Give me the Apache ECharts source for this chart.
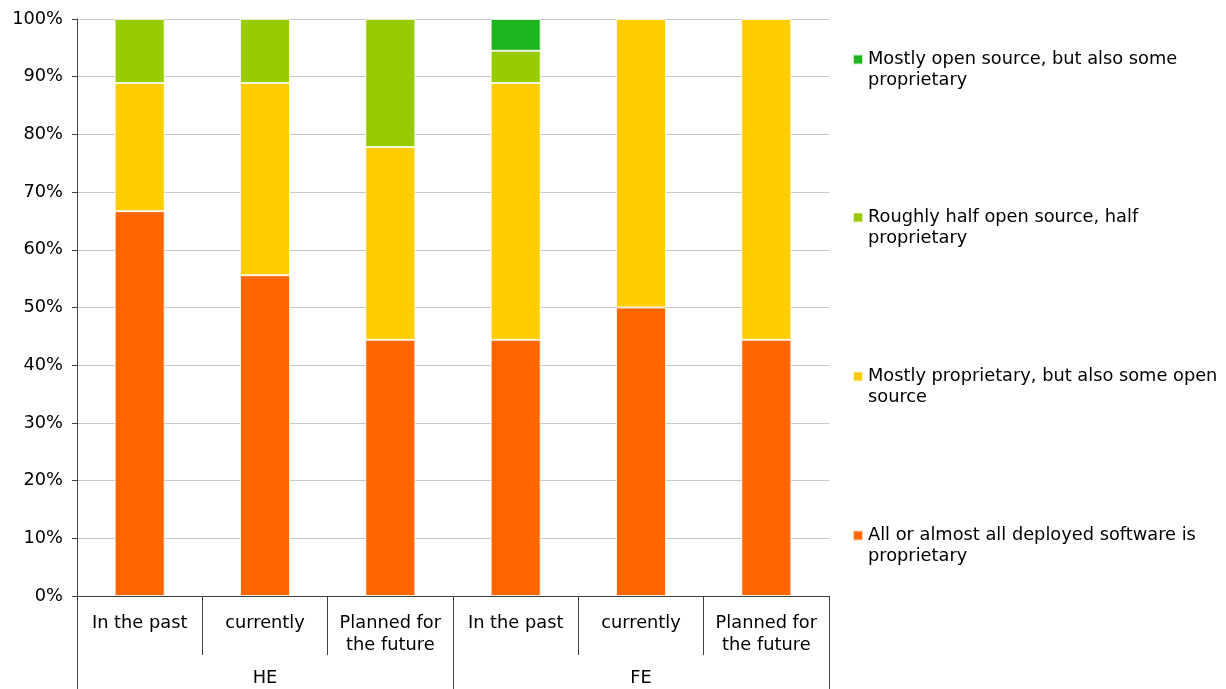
<!DOCTYPE html>
<html>
<head>
<meta charset="utf-8">
<script src="https://cdn.jsdelivr.net/npm/echarts@6/dist/echarts.min.js"></script>
<style>html,body{margin:0;padding:0;background:#fff}#c{width:1226px;height:689px}</style>
</head>
<body>
<div id="c"></div>
<script>
var categories = ['In the past', 'currently', 'Planned for\nthe future', 'In the past', 'currently', 'Planned for\nthe future'];
var groups = ['HE', 'FE'];
var yTicks = [0, 10, 20, 30, 40, 50, 60, 70, 80, 90, 100];
var seriesNames = [
  'All or almost all deployed software is\nproprietary',
  'Mostly proprietary, but also some open\nsource',
  'Roughly half open source, half\nproprietary',
  'Mostly open source, but also some\nproprietary'
];
var allProprietary = [66.7, 55.6, 44.4, 44.4, 50.0, 44.4];
var mostlyProprietary = [22.2, 33.3, 33.4, 44.5, 50.0, 55.6];
var roughlyHalf = [11.1, 11.1, 22.2, 5.6, null, null];
var mostlyOpen = [null, null, null, 5.5, null, null];
var colors = ['#FF6600', '#FFCC00', '#99CC00', '#1FB51F'];

var FONT = 'DejaVu Sans';
var values = [allProprietary, mostlyProprietary, roughlyHalf, mostlyOpen];
var series = values.map(function (v, i) {
  return {
    name: seriesNames[i], type: 'bar', stack: 'all', data: v, barWidth: 50,
    xAxisIndex: 0,
    itemStyle: { color: colors[i], borderColor: 'rgba(255,255,255,0.75)', borderWidth: 1 }
  };
});
var legendTops = [60, 218, 377, 536];
var legends = [3, 2, 1, 0].map(function (si, k) {
  return {
    data: [seriesNames[si]], left: 847, top: legendTops[k] - 37, orient: 'vertical',
    icon: 'rect', itemWidth: 10, itemHeight: 10, itemGap: 0, selectedMode: false,
    formatter: function (n) { return '\n' + n; },
    textStyle: { fontFamily: FONT, fontSize: 17.8, color: '#000', lineHeight: 21 }
  };
});
var chart = echarts.init(document.getElementById('c'), null, { renderer: 'canvas' });
chart.setOption({
  animation: false,
  backgroundColor: '#fff',
  color: colors,
  grid: { left: 77, right: 397, top: 19, bottom: 93, containLabel: false },
  legend: legends,
  xAxis: [{
    type: 'category', data: categories, position: 'bottom',
    axisLine: { lineStyle: { color: '#404040', width: 1 } },
    axisTick: { show: true, interval: 0, length: 59, lineStyle: { color: '#404040' } },
    axisLabel: { interval: 0, fontFamily: FONT, fontSize: 17.8, color: '#000', lineHeight: 22, margin: 16 }
  }, {
    type: 'category', data: groups, position: 'bottom',
    axisLine: { lineStyle: { color: '#404040', width: 1 } },
    axisTick: { show: true, interval: 0, length: 93, lineStyle: { color: '#404040' } },
    axisLabel: { interval: 0, fontFamily: FONT, fontSize: 17.8, color: '#000', margin: 73 }
  }],
  yAxis: {
    type: 'value', min: yTicks[0], max: yTicks[yTicks.length - 1], interval: 10,
    axisLine: { show: true, lineStyle: { color: '#404040' } },
    axisTick: { show: true, length: 5, lineStyle: { color: '#404040' } },
    splitLine: { lineStyle: { color: '#C8C8C8' } },
    axisLabel: { formatter: '{value}%', fontFamily: FONT, fontSize: 17.8, color: '#000', margin: 14 }
  },
  series: series
});
</script>
</body>
</html>
